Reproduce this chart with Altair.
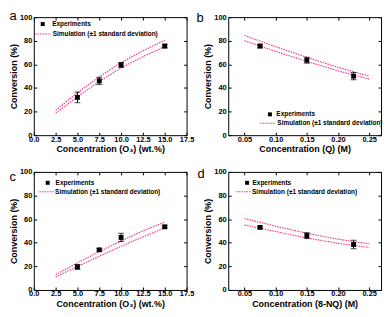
import altair as alt
import pandas as pd

PINK = "#ee3a8c"
FONT = "Liberation Sans"

# ---------------- data ----------------
# panel a
a_exp_x = [5.0, 7.5, 10.0, 15.0]
a_exp_y = [32.0, 46.0, 59.5, 75.5]
a_exp_err = [4.5, 3.0, 2.0, 1.5]
a_sim_x = [2.5, 5.0, 7.5, 10.0, 12.5, 15.0]
a_sim_hi = [21.0, 36.0, 49.5, 61.5, 71.5, 80.5]
a_sim_lo = [18.5, 32.5, 45.5, 57.0, 66.5, 75.0]

# panel b
b_exp_x = [0.075, 0.15, 0.225]
b_exp_y = [75.5, 63.5, 50.0]
b_exp_err = [1.5, 2.5, 3.0]
b_sim_x = [0.05, 0.10, 0.15, 0.20, 0.25]
b_sim_hi = [84.5, 75.0, 66.0, 57.5, 50.0]
b_sim_lo = [80.0, 71.0, 62.5, 54.5, 47.5]

# panel c
c_exp_x = [5.0, 7.5, 10.0, 15.0]
c_exp_y = [19.5, 34.0, 44.5, 53.5]
c_exp_err = [2.0, 1.0, 3.5, 1.0]
c_sim_x = [2.5, 5.0, 7.5, 10.0, 12.5, 15.0]
c_sim_hi = [13.0, 23.0, 32.5, 41.5, 50.0, 57.5]
c_sim_lo = [11.0, 20.0, 28.5, 37.0, 45.0, 52.5]

# panel d
d_exp_x = [0.075, 0.15, 0.225]
d_exp_y = [53.0, 46.0, 38.5]
d_exp_err = [1.0, 2.5, 3.5]
d_sim_x = [0.05, 0.10, 0.15, 0.20, 0.25]
d_sim_hi = [60.5, 54.0, 48.0, 43.0, 39.0]
d_sim_lo = [55.0, 49.5, 44.0, 39.5, 36.0]

wt_ticks = [0.0, 2.5, 5.0, 7.5, 10.0, 12.5, 15.0, 17.5]
m_ticks = [0.05, 0.10, 0.15, 0.20, 0.25]
y_ticks = [0, 20, 40, 60, 80, 100]

W, H = 154, 119


def exp_df(x, y, e):
    return pd.DataFrame({"x": x, "y": y,
                         "lo": [v - s for v, s in zip(y, e)],
                         "hi": [v + s for v, s in zip(y, e)]})


def sim_df(x, hi, lo):
    return pd.concat([
        pd.DataFrame({"x": x, "y": hi, "bound": "hi"}),
        pd.DataFrame({"x": x, "y": lo, "bound": "lo"}),
    ])


def panel(exp, sim, xdom, xvals, xfmt, xtitle, letter, letter_xy, leg):
    xs = alt.Scale(domain=xdom, nice=False, zero=False)
    ys = alt.Scale(domain=[0, 100], nice=False)
    bottom = alt.Axis(orient="bottom", values=xvals, format=xfmt, title=xtitle)
    left = alt.Axis(orient="left", values=y_ticks, title="Conversion (%)")
    top = alt.Axis(orient="top", values=xvals, labels=False, title="")
    right = alt.Axis(orient="right", values=y_ticks, labels=False, title="")

    lines = alt.Chart(sim).mark_line(strokeDash=[1.6, 1.0], strokeWidth=1.1, color=PINK).encode(
        x=alt.X("x:Q", scale=xs, axis=bottom),
        y=alt.Y("y:Q", scale=ys, axis=left),
        detail="bound:N",
    )
    rules = alt.Chart(exp).mark_rule(color="black", strokeWidth=1).encode(
        x=alt.X("x:Q", scale=xs, axis=top),
        y=alt.Y("lo:Q", scale=ys, axis=right),
        y2="hi:Q",
    )
    cap_lo = alt.Chart(exp).mark_tick(orient="horizontal", size=6, thickness=1, color="black").encode(
        x=alt.X("x:Q", scale=xs, axis=None), y=alt.Y("lo:Q", scale=ys, axis=None))
    cap_hi = alt.Chart(exp).mark_tick(orient="horizontal", size=6, thickness=1, color="black").encode(
        x=alt.X("x:Q", scale=xs, axis=None), y=alt.Y("hi:Q", scale=ys, axis=None))
    pts = alt.Chart(exp).mark_square(size=24, color="black", opacity=1).encode(
        x=alt.X("x:Q", scale=xs, axis=None), y=alt.Y("y:Q", scale=ys, axis=None))

    one = pd.DataFrame({"k": [0]})
    sqx, sqy, tx, lx1, lx2, ly, tx2 = leg
    leg_sq = alt.Chart(one).mark_square(size=16, color="black", opacity=1).encode(
        x=alt.value(sqx), y=alt.value(sqy))
    leg_t1 = alt.Chart(one).mark_text(text="Experiments", align="left", baseline="middle",
                                      font=FONT, fontSize=6.5, fontWeight="bold", color="black").encode(
        x=alt.value(tx), y=alt.value(sqy))
    leg_ln = alt.Chart(one).mark_rule(strokeDash=[1.6, 1.0], strokeWidth=1.1, color=PINK).encode(
        x=alt.value(lx1), x2=alt.value(lx2), y=alt.value(ly))
    leg_t2 = alt.Chart(one).mark_text(text="Simulation (\u00b11 standard deviation)", align="left",
                                      baseline="middle", font=FONT, fontSize=6.5, fontWeight="bold",
                                      color="black").encode(
        x=alt.value(tx2), y=alt.value(ly))
    lab = alt.Chart(one).mark_text(text=letter, align="left", baseline="middle", font=FONT,
                                   fontSize=13, color="black").encode(
        x=alt.value(letter_xy[0]), y=alt.value(letter_xy[1]))

    return alt.layer(lines, rules, cap_lo, cap_hi, pts, leg_sq, leg_t1, leg_ln, leg_t2, lab).properties(
        width=W, height=H)


pa = panel(exp_df(a_exp_x, a_exp_y, a_exp_err), sim_df(a_sim_x, a_sim_hi, a_sim_lo),
           [0, 17.5], wt_ticks, ".1f", "Concentration (O\u2083) (wt.%)", "a", (-24.5, -1),
           (9, 7, 18.5, 1, 17, 17, 19))
pb = panel(exp_df(b_exp_x, b_exp_y, b_exp_err), sim_df(b_sim_x, b_sim_hi, b_sim_lo),
           [0.024, 0.269], m_ticks, ".2f", "Concentration (Q) (M)", "b", (-32, 1),
           (42, H - 21, 48.5, 32, 47, H - 12, 49.5))
pc = panel(exp_df(c_exp_x, c_exp_y, c_exp_err), sim_df(c_sim_x, c_sim_hi, c_sim_lo),
           [0, 17.5], wt_ticks, ".1f", "Concentration (O\u2083) (wt.%)", "c", (-24.5, 5),
           (14, 11, 22, 5.6, 20, 20, 21.5))
pd_ = panel(exp_df(d_exp_x, d_exp_y, d_exp_err), sim_df(d_sim_x, d_sim_hi, d_sim_lo),
            [0.024, 0.269], m_ticks, ".2f", "Concentration (8-NQ) (M)", "d", (-31, 2),
            (19, 11, 24.5, 8, 22.5, 20, 24))

chart = alt.concat(pa, pb, pc, pd_, columns=2, spacing={"row": 37, "column": 42},
                   bounds="flush").properties(padding=0).configure_view(
    stroke="black", strokeWidth=1
).configure_axis(
    domain=False, grid=False, offset=-3, tickSize=3, tickWidth=1, tickColor="black",
    labelFont=FONT, labelFontSize=7.5, labelFontWeight="bold", labelColor="black",
    labelPadding=0, labelFlush=False, labelOverlap=False,
    titleFont=FONT, titleFontSize=9, titleFontWeight="bold", titleColor="black",
    titlePadding=2
).configure_axisLeft(labelPadding=2, titlePadding=1)

chart.save("out.html", embed_options={"renderer": "svg", "actions": False})
